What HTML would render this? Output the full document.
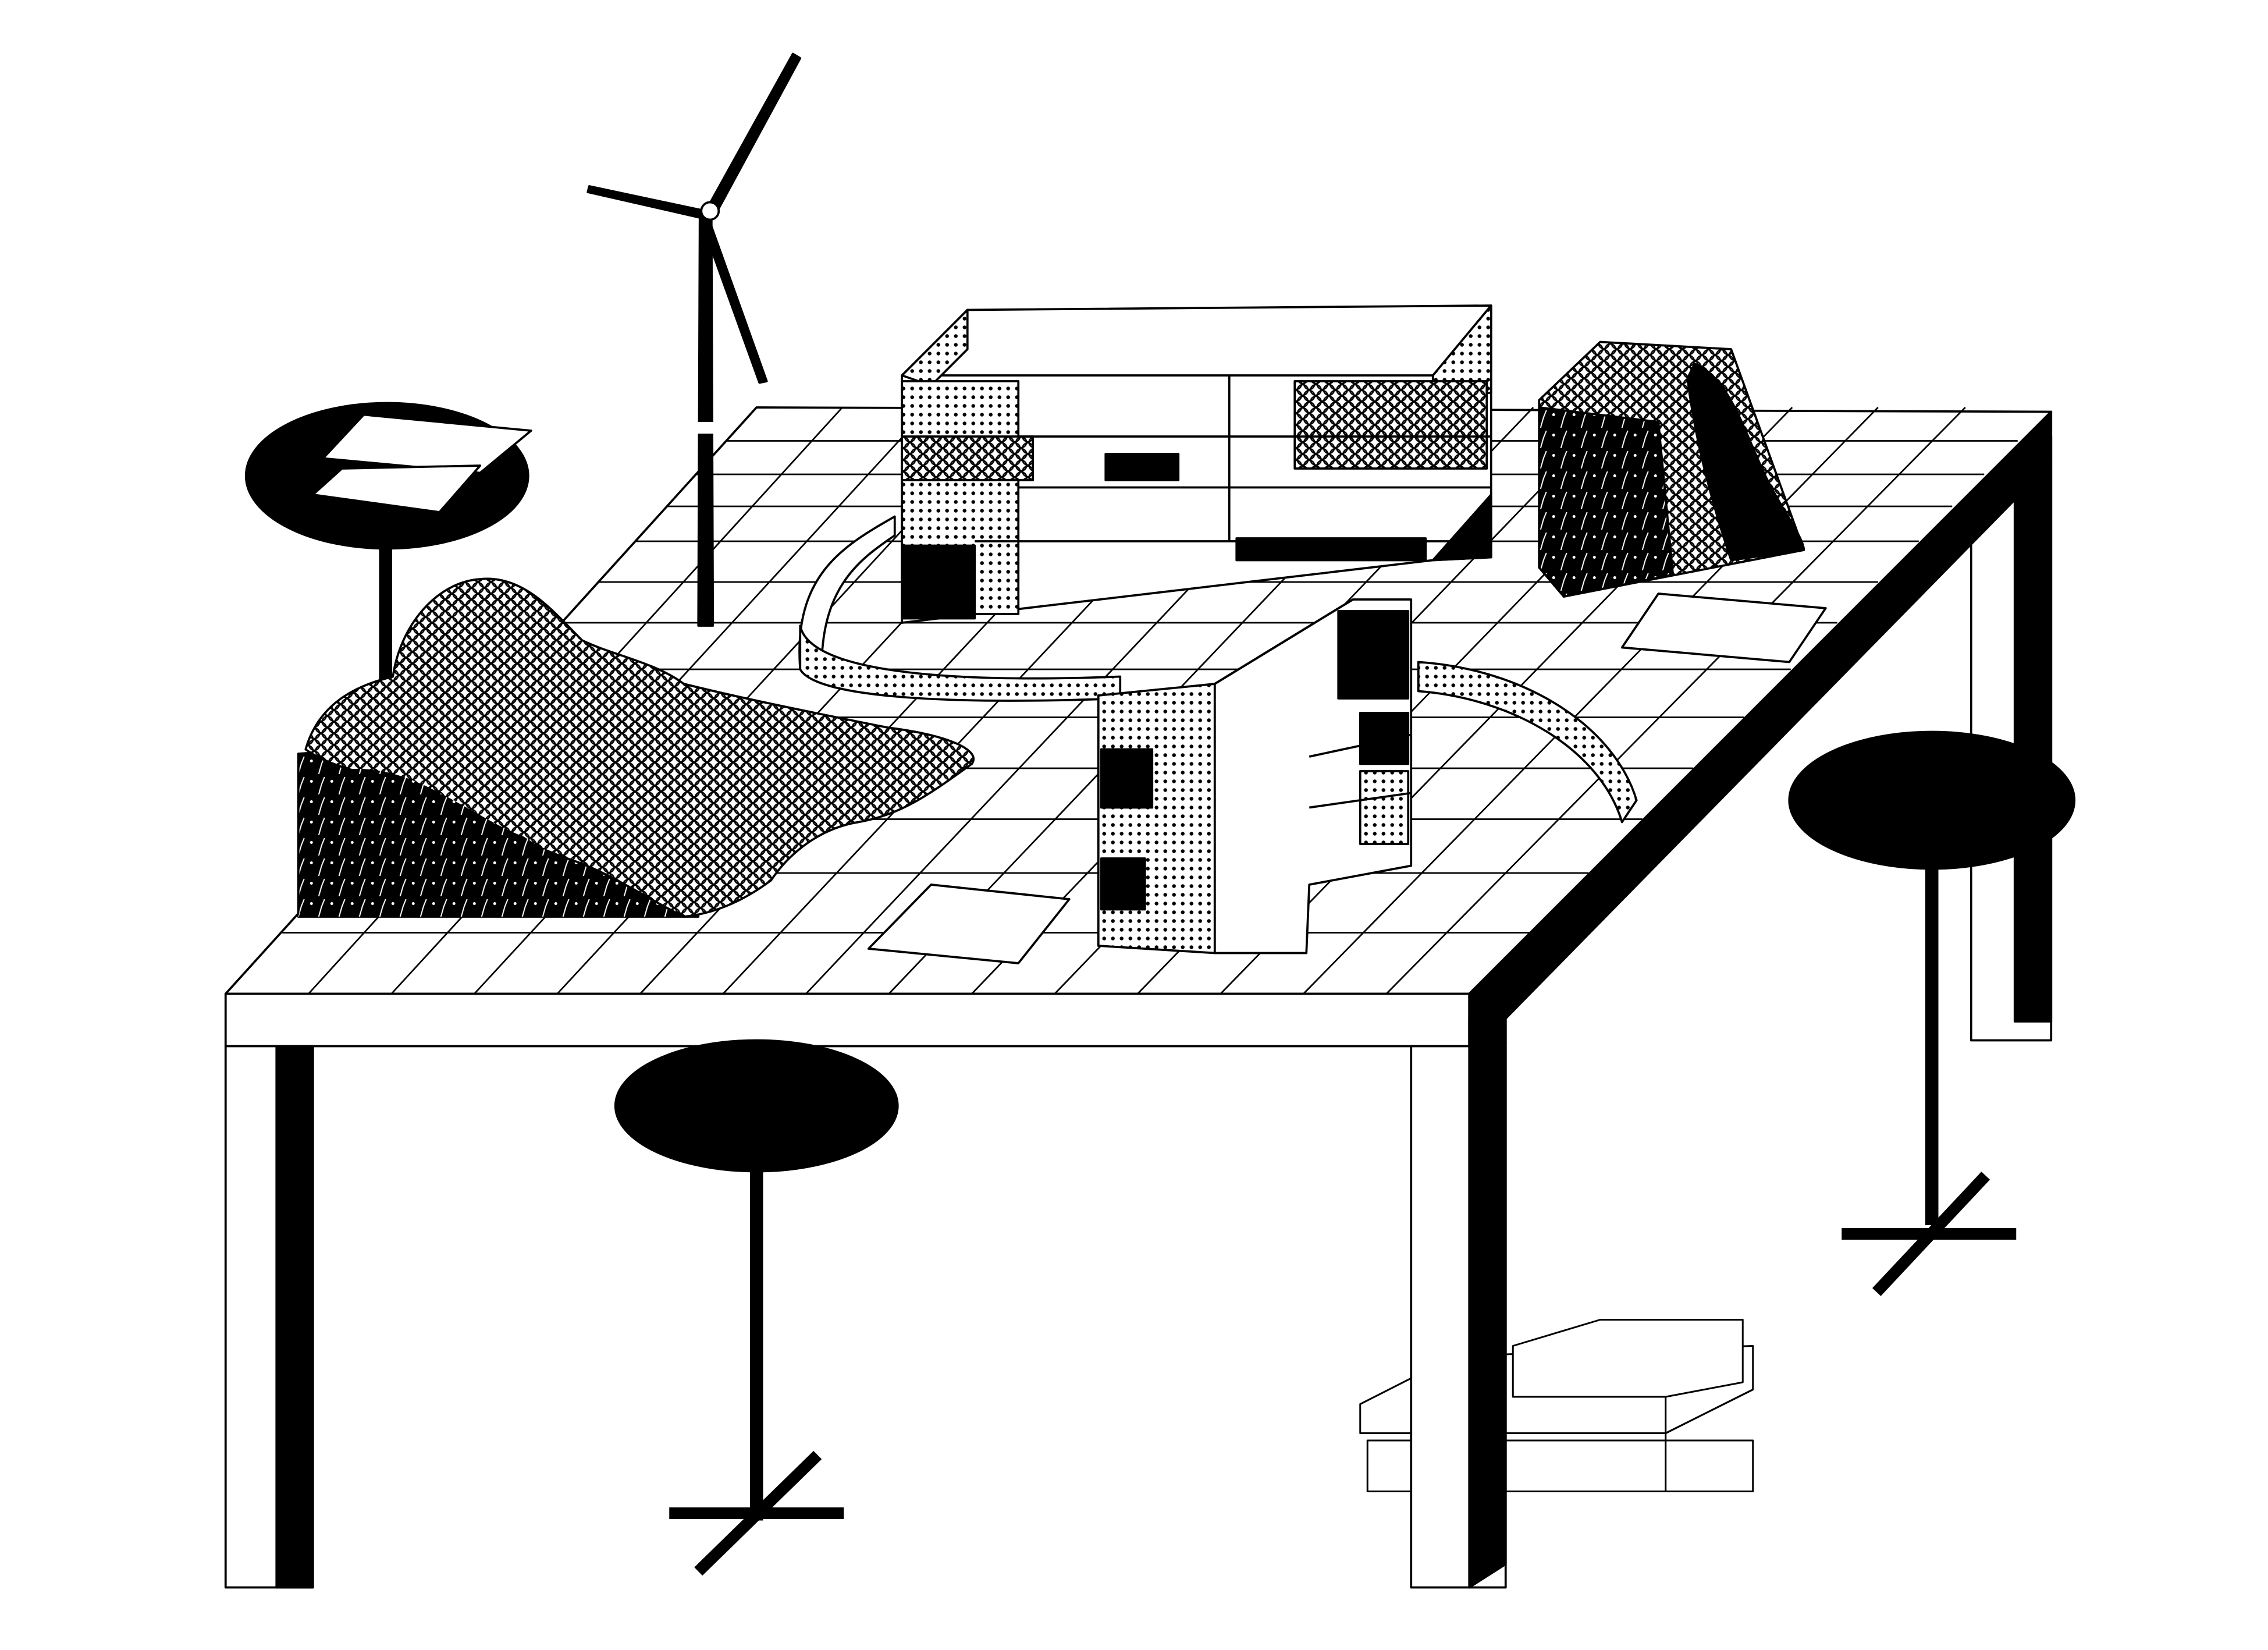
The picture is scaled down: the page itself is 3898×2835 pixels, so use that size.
<!DOCTYPE html>
<html><head><meta charset="utf-8"><style>
html,body{margin:0;padding:0;background:#fff;}
svg{display:block;}
</style></head><body>
<svg width="3898" height="2835" viewBox="0 0 1559 1134" xmlns="http://www.w3.org/2000/svg">
<defs>
<pattern id="dots" width="6" height="6" patternUnits="userSpaceOnUse"><rect width="6" height="6" fill="#fff"/><circle cx="3" cy="3" r="1.3" fill="#000"/></pattern>
<pattern id="scales" width="9" height="8" patternUnits="userSpaceOnUse"><rect width="9" height="8" fill="#fff"/><circle cx="4.5" cy="4" r="3.6" fill="none" stroke="#000" stroke-width="1"/><circle cx="0" cy="0" r="3.6" fill="none" stroke="#000" stroke-width="1"/><circle cx="9" cy="0" r="3.6" fill="none" stroke="#000" stroke-width="1"/><circle cx="0" cy="8" r="3.6" fill="none" stroke="#000" stroke-width="1"/><circle cx="9" cy="8" r="3.6" fill="none" stroke="#000" stroke-width="1"/></pattern>
<pattern id="blk" width="14" height="14" patternUnits="userSpaceOnUse"><rect width="14" height="14" fill="#000"/><circle cx="4" cy="5" r="1" fill="#fff"/><path d="M9 14 L11 7 L13 2" stroke="#fff" stroke-width="0.8" fill="none"/></pattern>
</defs>
<g stroke="#000" stroke-width="1.5" fill="none" stroke-linejoin="round">
<!-- back right leg -->
<rect x="1355" y="318" width="55" height="397" fill="#fff"/>
<rect x="1385" y="300" width="25" height="402" fill="#000"/>
<!-- right stool -->
<line x1="1328" y1="560" x2="1328" y2="842" stroke-width="9"/>
<line x1="1266" y1="848" x2="1386" y2="848" stroke-width="8"/>
<line x1="1290" y1="888" x2="1365" y2="808" stroke-width="8"/>
<ellipse cx="1328" cy="550" rx="98" ry="47" fill="#000"/>
<!-- back-left stool -->
<line x1="265" y1="330" x2="265" y2="470" stroke-width="9"/>
<ellipse cx="266" cy="327" rx="97" ry="50" fill="#000"/>
<polygon points="250,285 365,296 330,325 222,315" fill="#fff"/>
<polygon points="235,322 330,320 302,352 215,340" fill="#fff"/>
<!-- box stack (behind leg) -->
<g fill="#fff" stroke-width="1.2">
<polygon points="940,990 1205,990 1205,1025 1145,1025 940,1025"/>
<polygon points="935,965 1000,932 1205,925 1205,955 1145,985 935,985"/>
<polygon points="1040,925 1100,907 1198,907 1198,950 1145,960 1040,960"/>
<line x1="1145" y1="960" x2="1145" y2="1025"/><line x1="1145" y1="985" x2="1205" y2="955"/>
</g>
<!-- table top -->
<polygon points="155,683 1010,683 1410,283 520,280" fill="#fff"/>
<g stroke-width="1.1">
<line x1="212" y1="683" x2="579" y2="280"/><line x1="269" y1="683" x2="639" y2="280"/>
<line x1="326" y1="683" x2="698" y2="280"/><line x1="383" y1="683" x2="757" y2="280"/>
<line x1="440" y1="683" x2="817" y2="280"/><line x1="497" y1="683" x2="876" y2="280"/>
<line x1="554" y1="683" x2="935" y2="280"/><line x1="611" y1="683" x2="995" y2="280"/>
<line x1="668" y1="683" x2="1054" y2="280"/><line x1="725" y1="683" x2="1113" y2="280"/>
<line x1="782" y1="683" x2="1173" y2="280"/><line x1="839" y1="683" x2="1232" y2="280"/>
<line x1="896" y1="683" x2="1291" y2="280"/><line x1="953" y1="683" x2="1351" y2="280"/>
<line x1="194" y1="641" x2="1052" y2="641"/><line x1="230" y1="600" x2="1092" y2="600"/>
<line x1="264" y1="563" x2="1129" y2="563"/><line x1="295" y1="528" x2="1164" y2="528"/>
<line x1="327" y1="493" x2="1199" y2="493"/><line x1="357" y1="460" x2="1231" y2="460"/>
<line x1="386" y1="428" x2="1263" y2="428"/><line x1="411" y1="400" x2="1291" y2="400"/>
<line x1="437" y1="372" x2="1319" y2="372"/><line x1="458" y1="348" x2="1342" y2="348"/>
<line x1="478" y1="326" x2="1364" y2="326"/><line x1="499" y1="303" x2="1387" y2="303"/>
</g>
<!-- table front apron -->
<rect x="155" y="683" width="855" height="36" fill="#fff"/>
<!-- right side apron -->
<polygon points="1010,683 1410,283 1410,318 1035,700 1035,718 1010,718" fill="#000"/>
<!-- front legs -->
<rect x="155" y="719" width="60" height="372" fill="#fff"/>
<rect x="190" y="719" width="25" height="372" fill="#000"/>
<rect x="970" y="719" width="65" height="372" fill="#fff"/>
<polygon points="1010,700 1035,690 1035,1075 1010,1091" fill="#000"/>
<!-- front stool -->
<line x1="520" y1="780" x2="520" y2="1045" stroke-width="9"/>
<line x1="460" y1="1040" x2="580" y2="1040" stroke-width="8"/>
<line x1="480" y1="1080" x2="562" y2="1000" stroke-width="8"/>
<ellipse cx="520" cy="760" rx="97" ry="45" fill="#000"/>
<!-- papers on table -->
<polygon points="1140,408 1255,418 1230,455 1115,445" fill="#fff"/>
<polygon points="640,608 735,618 700,662 597,652" fill="#fff"/>
<!-- wind turbine -->
<polygon points="480,430 490,430 489,148 481,148" fill="#000"/>
<rect x="479" y="290" width="12" height="8" fill="#fff" stroke="none"/>
<polygon points="485,145 545,37 550,40 492,147" fill="#000"/>
<polygon points="485,145 405,128 404,132 483,150" fill="#000"/>
<polygon points="487,150 527,262 522,263 482,152" fill="#000"/>
<circle cx="488" cy="145" r="6" fill="#fff"/>
<!-- building A -->
<polygon points="620,258 665,213 1025,210 1025,383 985,385 620,428" fill="#fff"/>
<line x1="620" y1="258" x2="1025" y2="258"/>
<polygon points="620,258 665,213 665,240 640,265" fill="url(#dots)"/>
<polygon points="985,258 1025,210 1025,270 985,270" fill="url(#dots)"/>
<rect x="620" y="262" width="80" height="160" fill="url(#dots)"/>
<rect x="620" y="375" width="50" height="50" fill="#000"/>
<rect x="890" y="262" width="132" height="60" fill="url(#scales)"/>
<rect x="620" y="300" width="90" height="30" fill="url(#scales)"/>
<rect x="850" y="370" width="130" height="15" fill="#000"/>
<polygon points="985,385 1025,340 1025,383" fill="#000"/>
<polygon points="760,312 810,312 810,330 760,330" fill="#000"/>
<line x1="700" y1="300" x2="1025" y2="300"/><line x1="700" y1="335" x2="1025" y2="335"/><line x1="670" y1="372" x2="1025" y2="372"/>
<line x1="845" y1="258" x2="845" y2="372"/>
<!-- ramps -->
<path d="M550,460 C545,395 580,375 615,355 L615,368 C590,385 562,405 565,468 Z" fill="#fff"/>
<path d="M550,430 C556,460 640,470 770,465 L770,480 C640,485 560,478 550,460 Z" fill="url(#dots)"/>
<path d="M975,455 C1050,460 1110,500 1125,550 L1115,565 C1100,515 1040,480 975,475 Z" fill="url(#dots)"/>
<!-- building B -->
<polygon points="835,470 930,412 970,412 970,595 900,608 898,655 835,655" fill="#fff"/>
<polygon points="755,478 835,470 835,655 755,650" fill="url(#dots)"/>
<rect x="757" y="515" width="35" height="40" fill="#000"/><rect x="757" y="590" width="30" height="35" fill="#000"/>
<rect x="920" y="420" width="48" height="60" fill="#000"/><rect x="935" y="490" width="33" height="35" fill="#000"/>
<rect x="935" y="530" width="33" height="50" fill="url(#dots)"/>
<line x1="835" y1="470" x2="930" y2="412"/>
<line x1="900" y1="520" x2="970" y2="505"/><line x1="900" y1="555" x2="970" y2="545"/>
<!-- left bush -->
<polygon points="205,518 475,500 480,630 205,630" fill="url(#blk)"/>
<path d="M210,515 C220,480 250,470 270,465 C275,430 300,400 330,398 C360,395 380,420 400,440 C420,450 450,455 470,470 C510,480 560,490 610,500 C650,505 675,515 668,525 C640,545 620,560 590,565 C560,570 540,590 530,605 C510,620 490,628 470,630 C440,615 420,600 390,590 C360,580 330,560 300,545 C270,535 230,530 210,515 Z" fill="url(#scales)"/>
<path d="M230,530 C280,520 320,560 360,575 C400,600 430,620 470,630 L205,630 Z" fill="url(#blk)" stroke="none"/>
<!-- right block -->
<polygon points="1058,275 1100,235 1190,240 1240,378 1075,410 1058,390" fill="url(#scales)"/>
<polygon points="1058,280 1140,290 1150,395 1075,410 1058,390" fill="url(#blk)"/>
<path d="M1165,250 C1190,260 1200,300 1215,330 C1225,350 1240,370 1240,378 L1190,385 C1175,340 1165,300 1160,260 Z" fill="#000"/>
</g>
</svg>
</body></html>
